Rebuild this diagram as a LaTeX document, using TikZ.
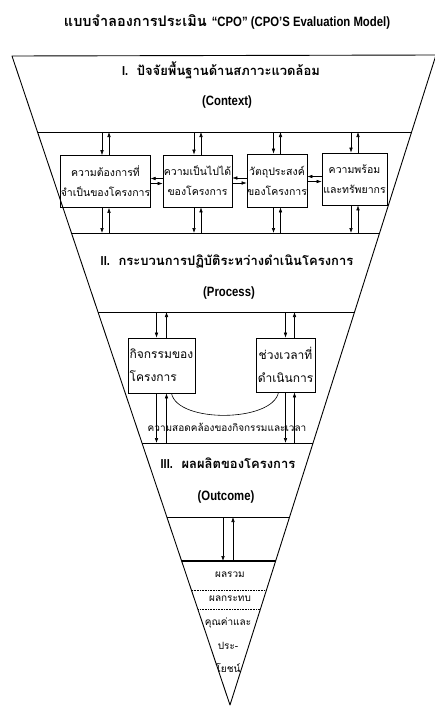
\documentclass[tikz,border=0pt]{standalone}
\usepackage{fontspec}
\setmainfont[Script=Thai]{Loma}
\newfontfamily\lat[FakeStretch=0.84]{Liberation Sans}
\usetikzlibrary{arrows.meta}

\begin{document}
\begin{tikzpicture}[x=1pt,y=-1pt,
  box/.style={draw, line width=0.7pt, align=center, inner sep=0pt, font=\fontsize{10.5}{20}\selectfont},
  pbox/.style={draw, line width=0.7pt, inner sep=0pt, font=\fontsize{12}{23}\selectfont},
  arr/.style={-{Latex[length=5pt,width=3.6pt]}, line width=0.6pt},
  head/.style={font=\bfseries\fontsize{13}{15}\selectfont},
  sub/.style={font=\lat\bfseries\fontsize{13.5}{15}\selectfont},
  small/.style={font=\fontsize{10}{12}\selectfont}]
\useasboundingbox (0,0) rectangle (435,707);
% title
\node[font=\bfseries\fontsize{14.5}{16}\selectfont] (title) at (227,22) {แบบจำลองการประเมิน {\lat\fontsize{13.5}{16}\selectfont “CPO” (CPO’S Evaluation Model)}};
% funnel
\coordinate (tl) at (12,56);
\coordinate (tr) at (436,55);
\coordinate (ap) at (230,705);
\draw[line width=0.9pt, line join=round] (tl) -- (tr) -- (ap) -- cycle;
\coordinate (lnA) at (0,132);
\coordinate (lnB) at (0,233);
\coordinate (lnC) at (0,312);
\coordinate (lnD) at (0,443);
\coordinate (lnE) at (0,517);
\coordinate (lnF) at (0,561);
\begin{scope}
\clip (tl) -- (tr) -- (ap) -- cycle;
\foreach \y in {132,233,312,443,517}
  \draw[line width=0.9pt] (0,\y) -- (435,\y);
\draw[line width=1.5pt] (0,561) -- (435,561);
\foreach \y in {590,609}
  \draw[densely dotted, line width=0.6pt] (0,\y) -- (435,\y);
\end{scope}
% I. context
\node[head] (h1) at (221,70) {{\lat I.}\ \ ปัจจัยพื้นฐานด้านสภาวะแวดล้อม};
\node[sub] (s1) at (227,102) {(Context)};
\node[box, minimum width=85, minimum height=52] (b1) at (105.5,181.5) {ความต้องการที่\\จำเป็นของโครงการ};
\node[box, minimum width=69, minimum height=52] (b2) at (197.5,181) {ความเป็นไปได้\\ของโครงการ};
\node[box, minimum width=60, minimum height=53] (b3) at (277,180.5) {วัตถุประสงค์\\ของโครงการ};
\node[box, minimum width=65, minimum height=52] (b4) at (354.5,179) {ความพร้อม\\และทรัพยากร};
\foreach \b in {b1,b2,b3,b4} {
  \draw[arr] ([xshift=-3.5]\b.north |- lnA) -- ([xshift=-3.5]\b.north);
  \draw[arr] ([xshift=3.5]\b.north) -- ([xshift=3.5]\b.north |- lnA);
  \draw[arr] ([xshift=-3.5]\b.south) -- ([xshift=-3.5]\b.south |- lnB);
  \draw[arr] ([xshift=3.5]\b.south |- lnB) -- ([xshift=3.5]\b.south);
}
\foreach \a/\b in {b1/b2,b2/b3,b3/b4} {
  \draw[arr] ([yshift=2.5]\b.west) -- ([yshift=2.5]\b.west -| \a.east);
  \draw[arr] ([yshift=-2.5]\b.west -| \a.east) -- ([yshift=-2.5]\b.west);
}
% II. process
\node[head] (h2) at (227,262) {{\lat II.}\ \ กระบวนการปฏิบัติระหว่างดำเนินโครงการ};
\node[sub] (s2) at (229,293) {(Process)};
\node[pbox, align=left, minimum width=67, minimum height=55] (pA) at (161.5,365.5) {กิจกรรมของ\\โครงการ};
\node[pbox, align=center, minimum width=59, minimum height=54] (pB) at (285.5,365) {ช่วงเวลาที่\\ดำเนินการ};
\draw[arr] ([xshift=-5]pA.north |- lnC) -- ([xshift=-5]pA.north);
\draw[arr] ([xshift=5]pA.north) -- ([xshift=5]pA.north |- lnC);
\draw[arr] ([xshift=-5]pA.south) -- ([xshift=-5]pA.south |- lnD);
\draw[arr] ([xshift=5]pA.south |- lnD) -- ([xshift=5]pA.south);
\draw[arr] (pB.north |- lnC) -- (pB.north);
\draw[arr] ([xshift=9]pB.north) -- ([xshift=9]pB.north |- lnC);
\draw[arr] (pB.south) -- (pB.south |- lnD);
\draw[arr] ([xshift=9]pB.south |- lnD) -- ([xshift=9]pB.south);
\draw[line width=0.6pt] ([xshift=10]pA.south) .. controls +(6,30) and +(-6,30) .. ([xshift=-7]pB.south);
\node[small] (fit) at (227,427) {ความสอดคล้องของกิจกรรมและเวลา};
% III. outcome
\node[head] (h3) at (228,463) {{\lat III.}\ \ ผลผลิตของโครงการ};
\node[sub] (s3) at (226,497) {(Outcome)};
\coordinate (o1) at (223,517);
\coordinate (o2) at (223,561);
\coordinate (o3) at (233,561);
\coordinate (o4) at (233,517);
\draw[arr] (o1) -- (o2);
\draw[arr] (o3) -- (o4);
\node[small] (r1) at (230,575) {ผลรวม};
\node[small] (r2) at (230,599) {ผลกระทบ};
\node[small] (r3) at (228,623) {คุณค่าและ};
\node[small] (r4) at (228,646) {ประ-};
\node[small] (r5) at (228,668) {โยชน์};
\end{tikzpicture}
\end{document}
